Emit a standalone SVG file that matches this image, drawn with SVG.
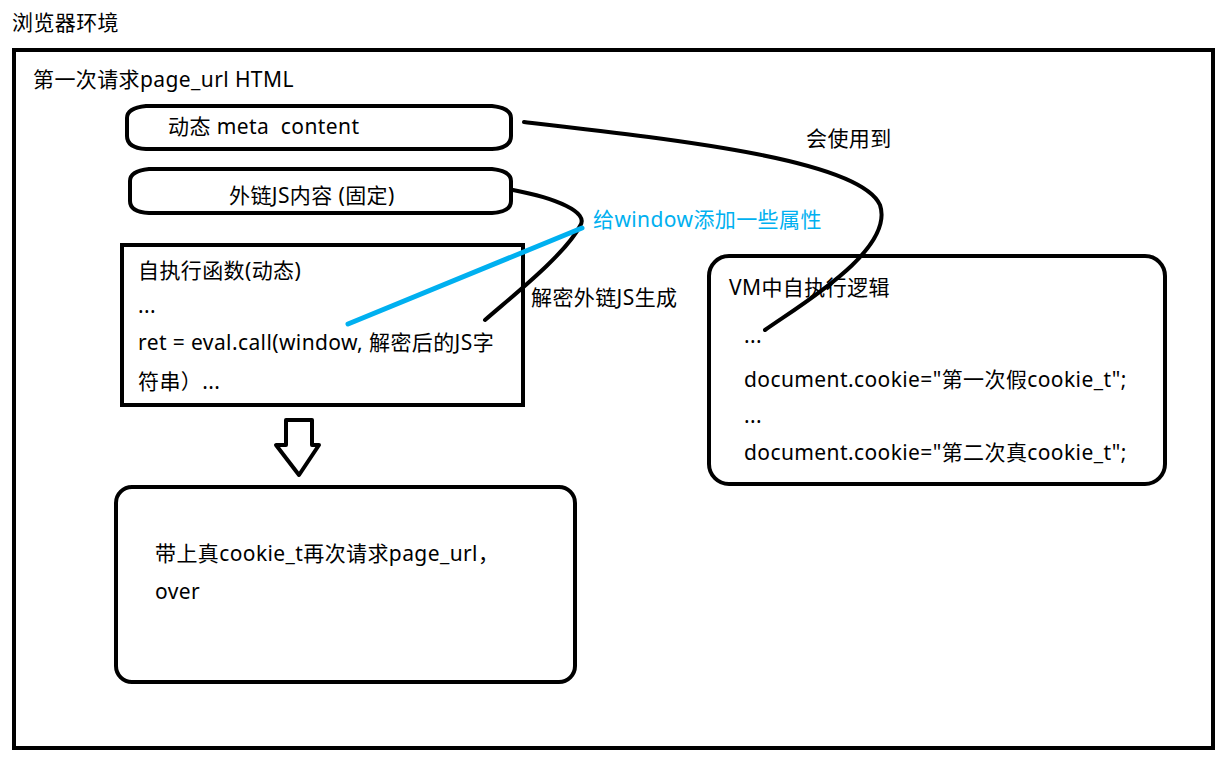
<svg xmlns="http://www.w3.org/2000/svg" width="1229" height="761" viewBox="0 0 1229 761">
<style>
text{font-family:"Noto Sans","Noto Sans CJK SC",sans-serif;font-size:21px;letter-spacing:0.4px;fill:#000;white-space:pre}
.s{fill:none;stroke:#000;stroke-width:4;stroke-linecap:round;stroke-linejoin:round}
.box{fill:#fff;stroke:#000;stroke-width:4}
.blue{fill:#00b0f0}
</style>
<rect width="1229" height="761" fill="#fff"/>
<text x="12" y="30">浏览器环境</text>
<g id="browser">
<rect x="14" y="50" width="1199" height="698" class="box"/>
<text x="33" y="87">第一次请求page_url HTML</text>
</g>
<g id="meta">
<path class="box" d="M146 106 L492 106 Q511 108 511 118 L511 136 Q511 148 492 149 L146 149 Q127 148 127 136 L127 118 Q127 108 146 106 Z"/>
<text x="168" y="134" xml:space="preserve">动态 meta  content</text>
</g>
<g id="extjs">
<path class="box" d="M149 169 L492 169 Q511 171 511 181 L511 201 Q511 212 492 213 L149 213 Q130 212 130 201 L130 181 Q130 171 149 169 Z"/>
<text x="229" y="203">外链JS内容 (固定)</text>
</g>
<g id="selfexec">
<rect x="122" y="245" width="401" height="160" class="box"/>
<text x="138" y="278">自执行函数(动态)</text>
<text x="138" y="313">...</text>
<text x="138" y="350">ret = eval.call(window, 解密后的JS字</text>
<text x="138" y="389">符串）...</text>
</g>
<g id="final">
<rect x="116" y="487" width="459" height="195" rx="16" class="box"/>
<text x="155" y="561">带上真cookie_t再次请求page_url，</text>
<text x="155" y="599">over</text>
</g>
<g id="vm">
<rect x="709" y="256" width="456" height="228" rx="20" class="box"/>
<text x="729" y="295">VM中自执行逻辑</text>
<text x="744" y="343">...</text>
<text x="744" y="387">document.cookie="第一次假cookie_t";</text>
<text x="744" y="423">...</text>
<text x="744" y="460">document.cookie="第二次真cookie_t";</text>
</g>
<g id="connectors">
<path class="s" d="M524 122 C680 140 860 160 880 205 C895 250 800 305 765 330"/>
<path class="s" d="M513 190 C555 198 590 212 580 226 C565 255 510 298 485 320"/>
<path d="M582 228 L348 324" fill="none" stroke="#00b0f0" stroke-width="5" stroke-linecap="round"/>
<path class="s" d="M286 420 L312 420 L312 445 L319 445 L299 475 L276 445 L286 445 Z"/>
</g>
<g id="labels">
<text x="806" y="146">会使用到</text>
<text x="593" y="227" class="blue">给window添加一些属性</text>
<text x="531" y="305">解密外链JS生成</text>
</g>
</svg>
